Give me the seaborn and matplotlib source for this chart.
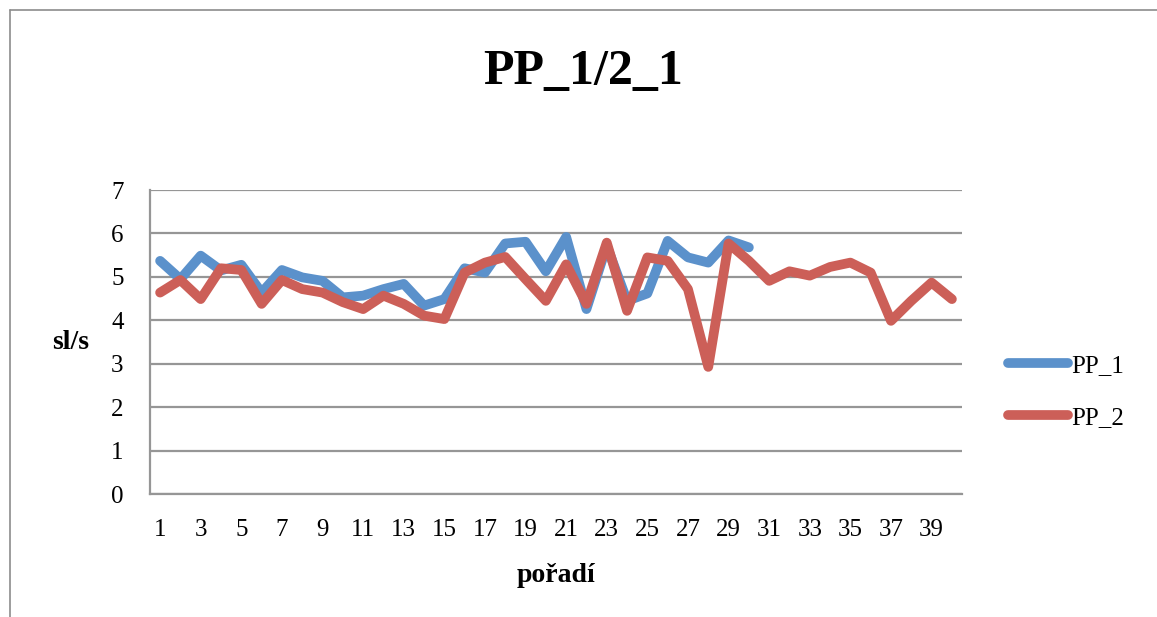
import numpy as np
import pandas as pd
import seaborn as sns
import matplotlib.pyplot as plt
from matplotlib.ticker import FixedLocator

# Values
pp_1 = [5.37, 4.95, 5.49, 5.15, 5.28, 4.64, 5.16, 4.99, 4.91, 4.53,
        4.57, 4.72, 4.84, 4.34, 4.49, 5.20, 5.10, 5.77, 5.81, 5.13,
        5.92, 4.26, 5.72, 4.45, 4.62, 5.83, 5.45, 5.33, 5.84, 5.68]
pp_2 = [4.64, 4.93, 4.49, 5.20, 5.16, 4.38, 4.93, 4.72, 4.64, 4.42,
        4.26, 4.57, 4.38, 4.11, 4.03, 5.10, 5.33, 5.46, 4.95, 4.45,
        5.29, 4.38, 5.79, 4.22, 5.45, 5.37, 4.72, 2.93, 5.77, 5.37,
        4.91, 5.13, 5.03, 5.23, 5.33, 5.10, 3.99, 4.45, 4.87, 4.49]
series_names = ["PP_1", "PP_2"]
colors = ["#5b91cb", "#cc5f58"]

df = pd.concat([
    pd.DataFrame({"poradi": np.arange(1, len(pp_1) + 1), "value": pp_1, "series": "PP_1"}),
    pd.DataFrame({"poradi": np.arange(1, len(pp_2) + 1), "value": pp_2, "series": "PP_2"}),
])

sns.set_style("white", {"text.color": "black", "xtick.color": "black",
                        "ytick.color": "black", "axes.labelcolor": "black"})
plt.rcParams['font.family'] = ['Liberation Serif', 'DejaVu Serif']

fig = plt.figure(figsize=(11.57, 6.17), dpi=100)
ax = fig.add_axes([0.1296, 0.199, 0.7019, 0.493])

sns.lineplot(data=df, x="poradi", y="value", hue="series", palette=colors,
             hue_order=series_names, linewidth=7, ax=ax, legend=False)
for line in ax.lines:
    line.set_solid_joinstyle("round")
    line.set_solid_capstyle("round")

# Gray frame around the chart area (as in the spreadsheet export)
fig.add_artist(plt.Line2D([0.0086, 0.0086], [0, 0.984], color="#8c8c8c", lw=1.2))
fig.add_artist(plt.Line2D([0.0086, 1.0], [0.984, 0.984], color="#8c8c8c", lw=1.2))

ax.set_xlim(0.5, len(pp_2) + 0.5)
ax.set_ylim(0, 7)
ax.set_yticks(range(0, 8))
ax.yaxis.grid(True, color="#969696", lw=1.6)
ax.set_axisbelow(True)

ax.set_xticks(np.arange(1, 41, 2))
ax.set_xticklabels([str(i) for i in range(1, 41, 2)])
ax.xaxis.set_minor_locator(FixedLocator(np.arange(0.5, 41, 1)))
ax.tick_params(axis="x", which="major", length=0, labelsize=18, pad=18, labelcolor="black")
ax.tick_params(axis="x", which="minor", length=6, width=1.4, color="#969696", direction="out")
ax.tick_params(axis="y", which="major", length=5, width=1.4, color="#969696",
               labelsize=18, pad=14, labelcolor="black")

for side in ["top", "right"]:
    ax.spines[side].set_visible(False)
for side in ["left", "bottom"]:
    ax.spines[side].set_color("#969696")
    ax.spines[side].set_linewidth(1.6)

ax.set_title("PP_1/2_1", fontsize=36, fontweight="bold", pad=76, x=0.533, color="black")
ax.set_xlabel("pořadí", fontsize=20, fontweight="bold", labelpad=16, color="black")
ax.set_ylabel("sl/s", fontsize=20, fontweight="bold", rotation=0, labelpad=29,
              va="center", color="black")

# Legend on the right
handles = [plt.Line2D([], [], color=c, lw=7, solid_capstyle="round") for c in colors]
fig.legend(handles, series_names, loc="center left", bbox_to_anchor=(0.852, 0.365),
           frameon=False, fontsize=18, handlelength=2.4, handletextpad=0.1,
           labelspacing=1.18, labelcolor="black")

fig.savefig("out.png", dpi=100)
